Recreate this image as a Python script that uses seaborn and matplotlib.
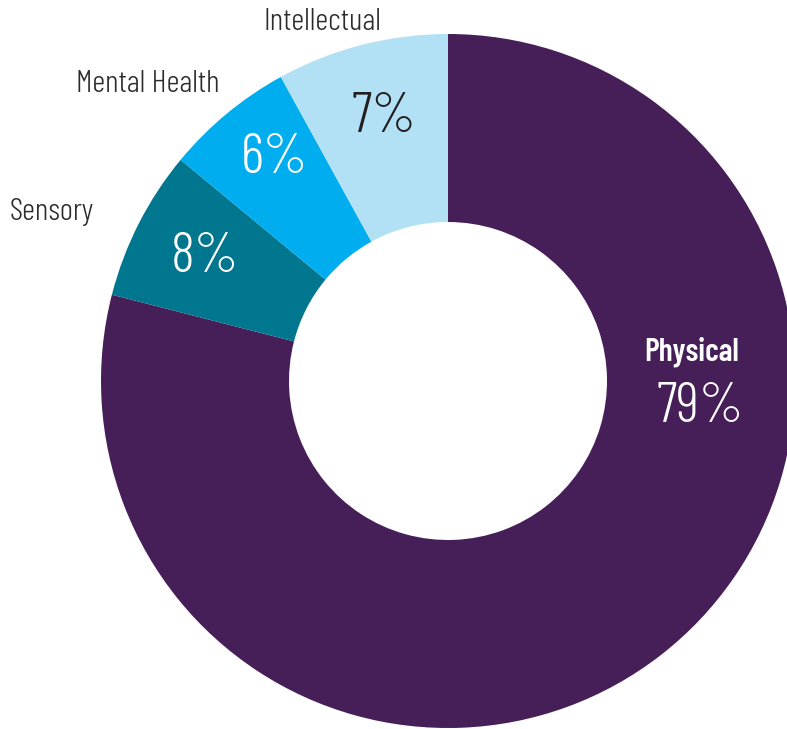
import matplotlib
matplotlib.use("Agg")
import matplotlib.pyplot as plt
import seaborn as sns
from matplotlib import font_manager

sns.set_theme(style="white")

# wedge shares as drawn, labels as printed
categories = ["Physical", "Sensory", "Mental Health", "Intellectual"]
shares = [79, 7, 6, 8]
pct_labels = ["79%", "8%", "6%", "7%"]
colors = ["#461E58", "#00768F", "#00AEEF", "#B2E1F5"]

names = {f.name for f in font_manager.fontManager.ttflist}
narrow = "Barlow Condensed" if "Barlow Condensed" in names else "DejaVu Sans"
plt.rcParams["font.family"] = [narrow, "DejaVu Sans"]

W, H = 787, 729
fig = plt.figure(figsize=(W / 100, H / 100), dpi=100)
ax = fig.add_axes([0, 0, 1, 1])

cx, cy = 448, H - 381
r_out, r_in = 347, 159
ax.pie(
    shares,
    colors=colors,
    startangle=90,
    counterclock=False,
    center=(cx, cy),
    radius=r_out,
    wedgeprops=dict(width=r_out - r_in, linewidth=0),
    frame=True,
)
ax.set_xlim(0, W)
ax.set_ylim(0, H)
ax.set_aspect("equal")
ax.axis("off")

# category names outside the ring
outer = [("Intellectual", 322, 22), ("Mental Health", 148, 84), ("Sensory", 52, 212)]
for text, x, y in outer:
    ax.text(x, H - y, text, ha="center", va="center", fontsize=23,
            fontweight=350, color="#2b2b2b")

# percentages inside the wedges
pct_pos = [(700, 407, "white"), (205, 257, "white"),
           (275, 158, "white"), (384, 117, "#231f20")]
for text, (x, y, c) in zip(pct_labels, pct_pos):
    ax.text(x, H - y, text, ha="center", va="center", fontsize=41,
            fontweight=300, color=c)

ax.text(692, H - 352, categories[0], ha="center", va="center", fontsize=23,
        color="white", fontweight=600)

fig.savefig("out.png", dpi=100)
